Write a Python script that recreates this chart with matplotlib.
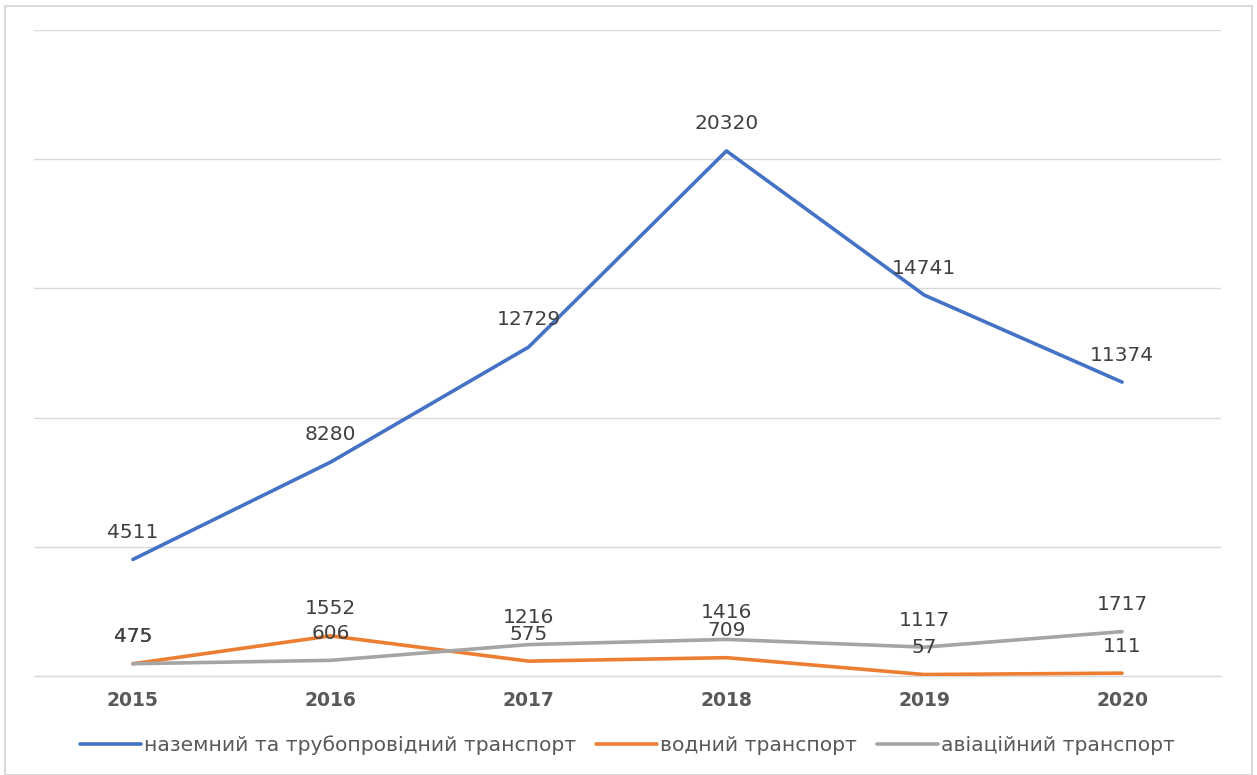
import matplotlib.pyplot as plt
from matplotlib.patches import Rectangle

years = ["2015", "2016", "2017", "2018", "2019", "2020"]
land = [4511, 8280, 12729, 20320, 14741, 11374]
water = [475, 1552, 575, 709, 57, 111]
air = [475, 606, 1216, 1416, 1117, 1717]

names = ["наземний та трубопровідний транспорт", "водний транспорт", "авіаційний транспорт"]
colors = ["#4472C4", "#ED7D31", "#A5A5A5"]

plt.rcParams["font.family"] = ["DejaVu Sans"]

fig = plt.figure(figsize=(12.57, 7.75), dpi=100)
ax = fig.add_axes([34 / 1257, 1 - 676 / 775, (1221 - 34) / 1257, (676 - 30) / 775])

x = range(len(years))
for vals, name, col in zip([land, water, air], names, colors):
    ax.plot(x, vals, color=col, lw=2.6, label=name, solid_capstyle="round", zorder=3)
    for xi, v in zip(x, vals):
        ax.annotate(str(v), (xi, v), xytext=(0, 19.5), textcoords="offset points",
                    ha="center", va="center", fontsize=14.5, color="#404040", zorder=4)

ax.set_xlim(-0.5, 5.5)
ax.set_ylim(0, 25000)
ax.set_yticks(range(0, 25001, 5000))
ax.yaxis.grid(True, color="#d9d9d9", lw=1)
ax.axhline(0, color="#d9d9d9", lw=1, clip_on=False, zorder=1)
ax.set_axisbelow(True)
ax.tick_params(axis="y", left=False, labelleft=False)
ax.tick_params(axis="x", length=0, pad=11)
ax.set_xticks(list(x))
ax.set_xticklabels(years, fontsize=13.5, fontweight="bold", color="#595959")
for s in ax.spines.values():
    s.set_visible(False)

ax.legend(loc="center", bbox_to_anchor=(0.5, -69 / 646), ncol=3, frameon=False,
          fontsize=14.6, labelcolor="#595959", handlelength=3.0, handletextpad=0.15,
          columnspacing=1.0)

fig.patches.append(Rectangle((5 / 1257, 0), 1247 / 1257, 1 - 6 / 775, transform=fig.transFigure,
                             fill=False, edgecolor="#d9d9d9", lw=1.5))

fig.savefig("out.png", dpi=100)
